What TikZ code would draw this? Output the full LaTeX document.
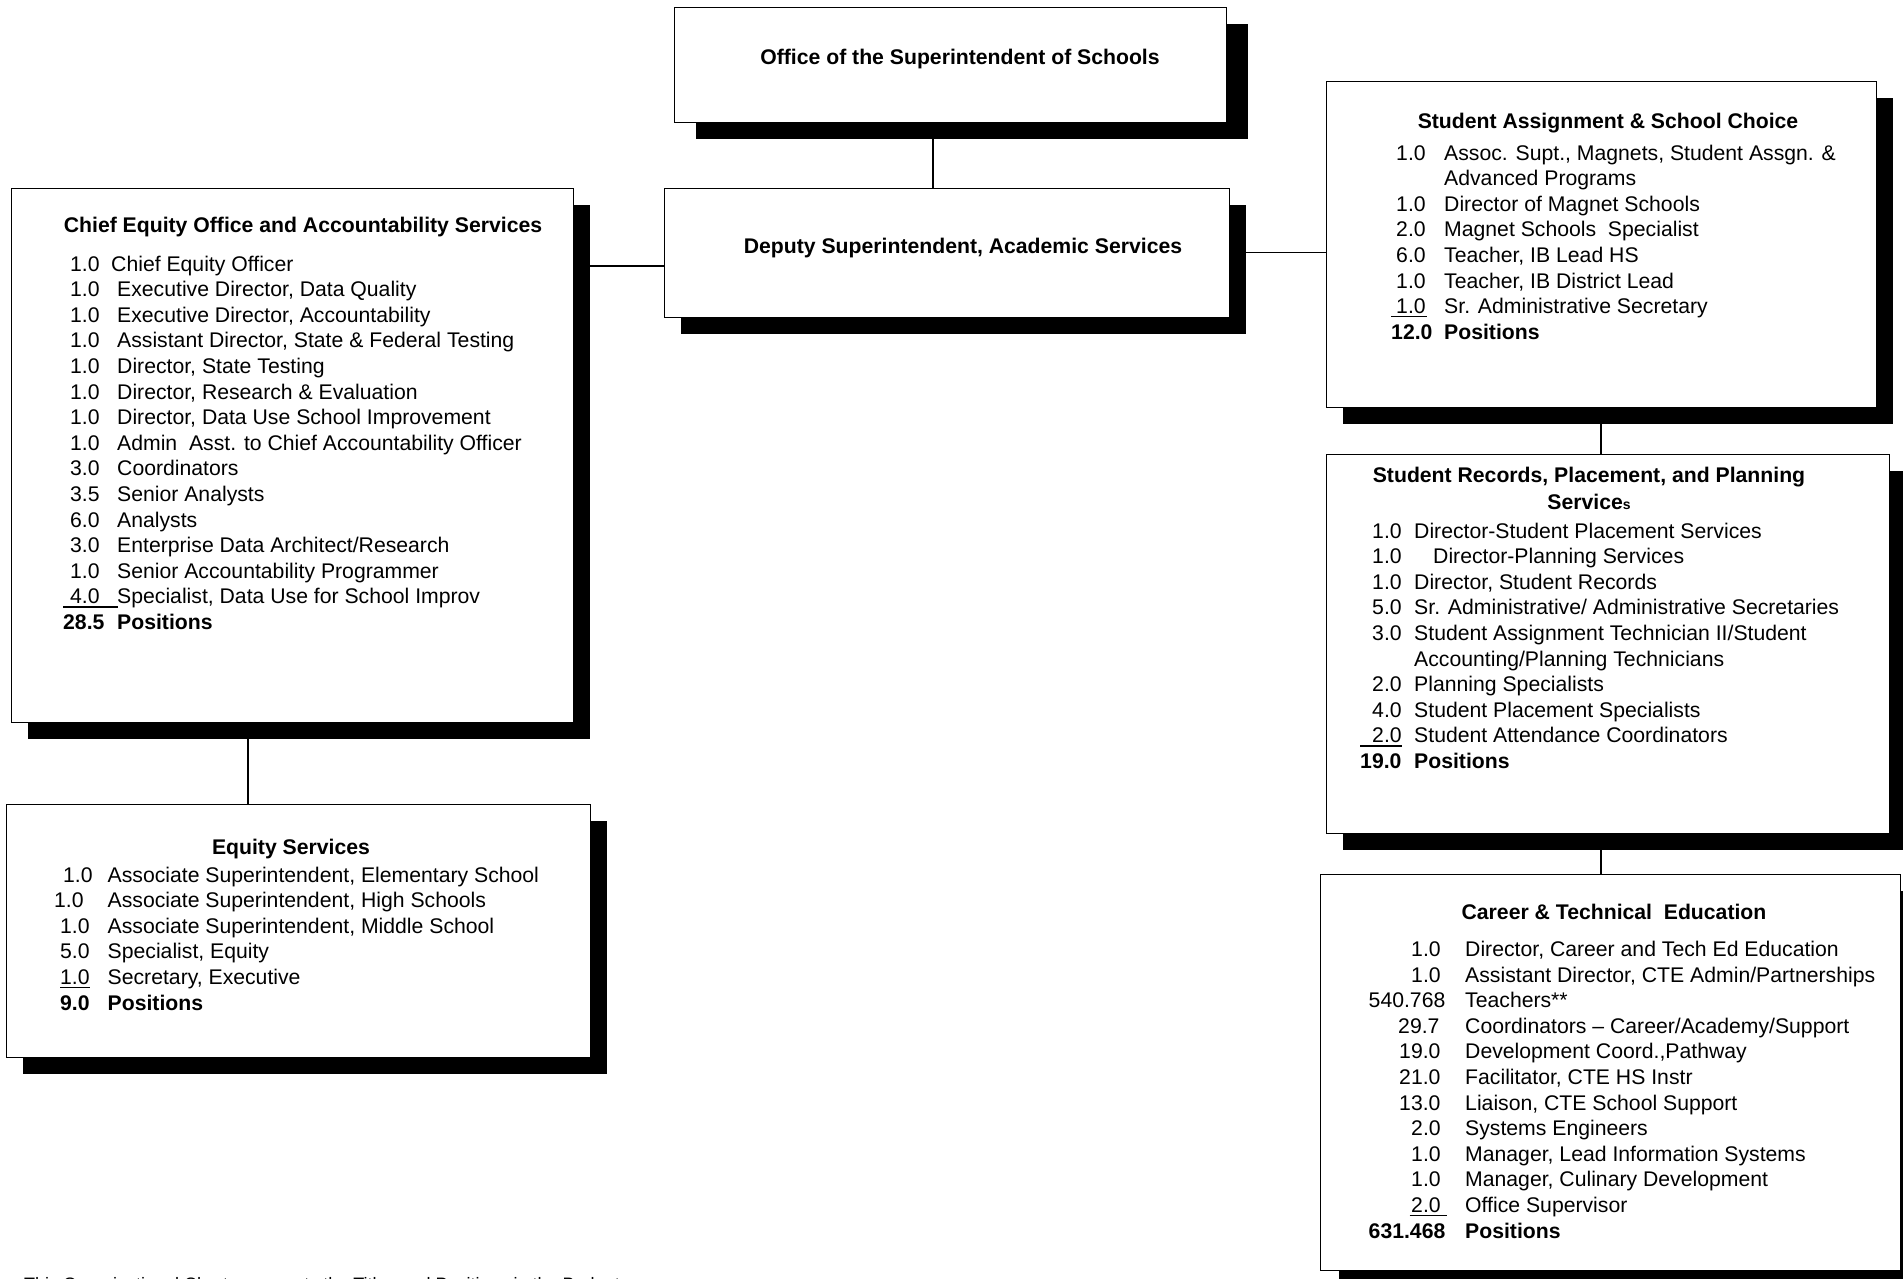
\documentclass[tikz,border=0pt]{standalone}
\usepackage{fontspec}
\setmainfont{Liberation Sans}
\usetikzlibrary{shadows,backgrounds}
\newcommand\fsz{\fontsize{21.2pt}{25.6pt}\selectfont}
\newcommand\dsp{\hspace{5.9pt} }
\begin{document}
\begin{tikzpicture}[x=1pt,y=-1pt,
  box/.style={draw, line width=1.3pt, fill=white, rectangle, inner sep=0pt, anchor=north west},
  shd/.style={drop shadow={shadow xshift=#1pt, shadow yshift=-16pt, opacity=1, fill=black, draw=none}},
  shd/.default=16,
  conn/.style={line width=1.4pt},
  ttl/.style={font=\bfseries\fsz, anchor=base, inner sep=0pt},
  item/.style={font=\fsz, anchor=base west, inner sep=0pt},
  itemb/.style={font=\bfseries\fsz, anchor=base west, inner sep=0pt},
  ul/.style={line width=1.4pt}]
\useasboundingbox (0,0) rectangle (1903,1278);

% ---------- boxes ----------
\node[box, shd=21, minimum width=552pt, minimum height=115pt] (office) at (674,7) {};
\node[box, shd, minimum width=565pt, minimum height=129pt] (deputy) at (664,188) {};
\node[box, shd, minimum width=562pt, minimum height=534pt] (chief) at (11,188) {};
\node[box, shd, minimum width=584pt, minimum height=253pt] (equity) at (6,804) {};
\node[box, shd, minimum width=550pt, minimum height=326pt] (sa) at (1326,81) {};
\node[box, shd, minimum width=563pt, minimum height=379pt] (sr) at (1326,454) {};
\node[box, shd=18, minimum width=580pt, minimum height=396pt] (cte) at (1320,874) {};

% ---------- connectors ----------
\begin{pgfonlayer}{background}
\draw[conn] (933,0 |- office.south) -- (933,0 |- deputy.north);
\draw[conn] (chief.east |- 0,266) -- (deputy.west |- 0,266);
\draw[conn] (deputy.east |- 0,252.5) -- (sa.west |- 0,252.5);
\draw[conn] (1601,0 |- sa.south) -- (1601,0 |- sr.north);
\draw[conn] (1601,0 |- sr.south) -- (1601,0 |- cte.north);
\draw[conn] (248,0 |- chief.south) -- (248,0 |- equity.north);
\end{pgfonlayer}

% ---------- top titles ----------
\node[ttl] (office-t) at (960,64) {Office of the Superintendent of Schools};
\node[ttl] (deputy-t) at (963,253) {Deputy Superintendent, Academic Services};

% ---------- Chief Equity ----------
\node[ttl] (chief-t) at (303,232) {Chief Equity Office and Accountability Services};
\foreach \nx/\n/\lx/\t [count=\i from 0] in {
  70/1.0/111/{Chief Equity Officer},
  70/1.0/117/{Executive Director, Data Quality},
  70/1.0/117/{Executive Director, Accountability},
  70/1.0/117/{Assistant Director, State \& Federal Testing},
  70/1.0/117/{Director, State Testing},
  70/1.0/117/{Director, Research \& Evaluation},
  70/1.0/117/{Director, Data Use School Improvement},
  70/1.0/117/{Admin\dsp Asst. to Chief Accountability Officer},
  70/3.0/117/{Coordinators},
  70/3.5/117/{Senior Analysts},
  70/6.0/117/{Analysts},
  70/3.0/117/{Enterprise Data Architect/Research},
  70/1.0/117/{Senior Accountability Programmer},
  70/4.0/117/{Specialist, Data Use for School Improv}}{
  \node[item] (chief-n\i) at (\nx,{271+25.6*\i}) {\n};
  \node[item] (chief-l\i) at (\lx,{271+25.6*\i}) {\t};
}
\draw[ul] (63,{271+25.6*13+3}) -- (118,{271+25.6*13+3});
\node[itemb] (chief-n14) at (63,{271+25.6*14}) {28.5};
\node[itemb] (chief-l14) at (117,{271+25.6*14}) {Positions};

% ---------- Equity Services ----------
\node[ttl] (equity-t) at (291,854) {Equity Services};
\foreach \nx/\n/\t [count=\i from 0] in {
  63/1.0/{Associate Superintendent, Elementary School},
  54/1.0/{Associate Superintendent, High Schools},
  60/1.0/{Associate Superintendent, Middle School},
  60/5.0/{Specialist, Equity},
  60/1.0/{Secretary, Executive}}{
  \node[item] (eq-n\i) at (\nx,{882+25.6*\i}) {\n};
  \node[item] (eq-l\i) at (107.5,{882+25.6*\i}) {\t};
}
\draw[ul] (60,{882+25.6*4+3}) -- (90,{882+25.6*4+3});
\node[itemb] (eq-n5) at (60,{882+25.6*5}) {9.0};
\node[itemb] (eq-l5) at (107.5,{882+25.6*5}) {Positions};

% ---------- Student Assignment ----------
\node[ttl] (sa-t) at (1608,128) {Student Assignment \& School Choice};
\node[item] (sa-n0) at (1396,160) {1.0};
\node[item] (sa-l0) at (1444,160) {Assoc. Supt., Magnets, Student Assgn. \&};
\node[item] (sa-l1) at (1444,{160+25.6}) {Advanced Programs};
\foreach \n/\t [count=\i from 2] in {
  1.0/{Director of Magnet Schools},
  2.0/{Magnet Schools\dsp Specialist},
  6.0/{Teacher, IB Lead HS},
  1.0/{Teacher, IB District Lead},
  1.0/{Sr. Administrative Secretary}}{
  \node[item] (sa-n\i) at (1396,{160+25.6*\i}) {\n};
  \node[item] (sa-l\i) at (1444,{160+25.6*\i}) {\t};
}
\draw[ul] (1391,{160+25.6*6+3}) -- (1426.5,{160+25.6*6+3});
\node[itemb] (sa-n7) at (1391,{160+25.6*7}) {12.0};
\node[itemb] (sa-l7) at (1444,{160+25.6*7}) {Positions};

% ---------- Student Records ----------
\node[ttl] (sr-t1) at (1589,482) {Student Records, Placement, and Planning};
\node[ttl] (sr-t2) at (1589,509) {Service{\fontsize{14pt}{14pt}\selectfont s}};
\foreach \n/\lx/\t [count=\i from 0] in {
  1.0/1414/{Director-Student Placement Services},
  1.0/1433/{Director-Planning Services},
  1.0/1414/{Director, Student Records},
  5.0/1414/{Sr. Administrative/ Administrative Secretaries},
  3.0/1414/{Student Assignment Technician II/Student}}{
  \node[item] (sr-n\i) at (1372,{538+25.6*\i}) {\n};
  \node[item] (sr-l\i) at (\lx,{538+25.6*\i}) {\t};
}
\node[item] (sr-l5) at (1414,{538+25.6*5}) {Accounting/Planning Technicians};
\foreach \n/\t [count=\i from 6] in {
  2.0/{Planning Specialists},
  4.0/{Student Placement Specialists},
  2.0/{Student Attendance Coordinators}}{
  \node[item] (sr-n\i) at (1372,{538+25.6*\i}) {\n};
  \node[item] (sr-l\i) at (1414,{538+25.6*\i}) {\t};
}
\draw[ul] (1360,{538+25.6*8+3}) -- (1401.5,{538+25.6*8+3});
\node[itemb] (sr-n9) at (1360,{538+25.6*9}) {19.0};
\node[itemb] (sr-l9) at (1414,{538+25.6*9}) {Positions};

% ---------- Career & Technical Education ----------
\node[ttl] (cte-t) at (1614,919) {Career \& Technical\dsp Education};
\foreach \nx/\n/\t [count=\i from 0] in {
  1411/1.0/{Director, Career and Tech Ed Education},
  1411/1.0/{Assistant Director, CTE Admin/Partnerships},
  1368.5/540.768/{Teachers**},
  1398/29.7/{Coordinators – Career/Academy/Support},
  1399/19.0/{Development Coord.,Pathway},
  1399/21.0/{Facilitator, CTE HS Instr},
  1399/13.0/{Liaison, CTE School Support},
  1411/2.0/{Systems Engineers},
  1411/1.0/{Manager, Lead Information Systems},
  1411/1.0/{Manager, Culinary Development},
  1411/2.0/{Office Supervisor}}{
  \node[item] (cte-n\i) at (\nx,{956.5+25.6*\i}) {\n};
  \node[item] (cte-l\i) at (1465,{956.5+25.6*\i}) {\t};
}
\draw[ul] (1409.6,{956.5+25.6*10+3}) -- (1447.3,{956.5+25.6*10+3});
\node[itemb] (cte-n11) at (1368.5,{956.5+25.6*11}) {631.468};
\node[itemb] (cte-l11) at (1465,{956.5+25.6*11}) {Positions};

% ---------- footnote (cut off at the page edge, as in the reference) ----------
\node[font=\fontsize{18pt}{20pt}\selectfont, anchor=base west, inner sep=0pt] (note) at (24,1290)
  {This Organizational Chart represents the Titles and Positions in the Budget};
\end{tikzpicture}
\end{document}
